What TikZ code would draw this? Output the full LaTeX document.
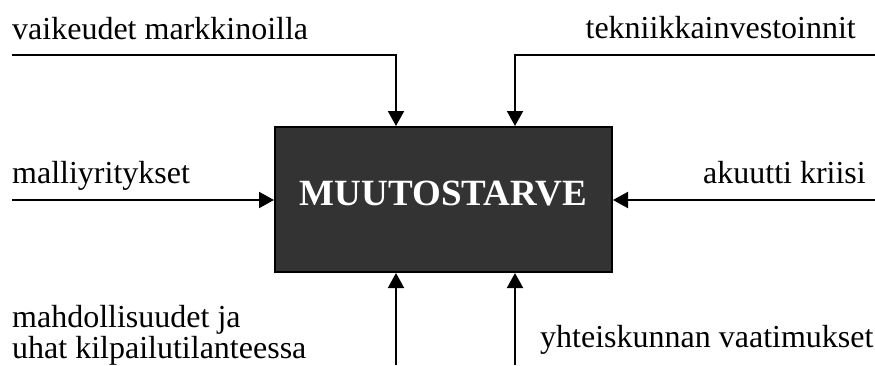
\documentclass[tikz,border=0pt]{standalone}
\usepackage{fontspec}
\setmainfont{Liberation Serif}
\usetikzlibrary{arrows.meta}
\begin{document}
\begin{tikzpicture}[x=1pt,y=-1pt,
  lbl/.style={inner sep=0pt,font=\fontsize{32}{36}\selectfont},
  feed/.style={line width=2pt,-{Triangle[width=16pt,length=15pt]}},
  core/.style={draw=black,line width=2pt,fill=black!80,inner sep=0pt,
    minimum width=337pt,minimum height=145pt}]
  \useasboundingbox (0,0) rectangle (875,365);
  % central box
  \node[core] (box) at (443.5,199.5) {};
  \node[inner sep=0pt,anchor=base,text=white,font=\fontsize{37}{40}\selectfont\bfseries]
    (title) at (443.5,205) {MUUTOSTARVE};
  % labels
  \node[lbl,anchor=base west] (l1) at (12,39) {vaikeudet markkinoilla};
  \node[lbl,anchor=base east] (l2) at (856,38) {tekniikkainvestoinnit};
  \node[lbl,anchor=base west] (l3) at (12,183) {malliyritykset};
  \node[lbl,anchor=base east] (l4) at (866,183) {akuutti kriisi};
  \node[lbl,anchor=base west] (l5) at (12,327) {mahdollisuudet ja};
  \node[lbl,anchor=base west] (l6) at (12,358) {uhat kilpailutilanteessa};
  \node[lbl,anchor=base west] (l7) at (540,347) {yhteiskunnan vaatimukset};
  % free ends of the connectors
  \coordinate (s1) at (12,55);
  \coordinate (s2) at (875,55);
  \coordinate (s3) at (12,200);
  \coordinate (s4) at (875,200);
  \coordinate (s5) at (396,365);
  \coordinate (s6) at (515,365);
  % connectors
  \draw[feed] (s1) -| (box.north -| s5);
  \draw[feed] (s2) -| (box.north -| s6);
  \draw[feed] (s3) -- (box.west |- s3);
  \draw[feed] (s4) -- (box.east |- s4);
  \draw[feed] (s5) -- (box.south -| s5);
  \draw[feed] (s6) -- (box.south -| s6);
\end{tikzpicture}
\end{document}
